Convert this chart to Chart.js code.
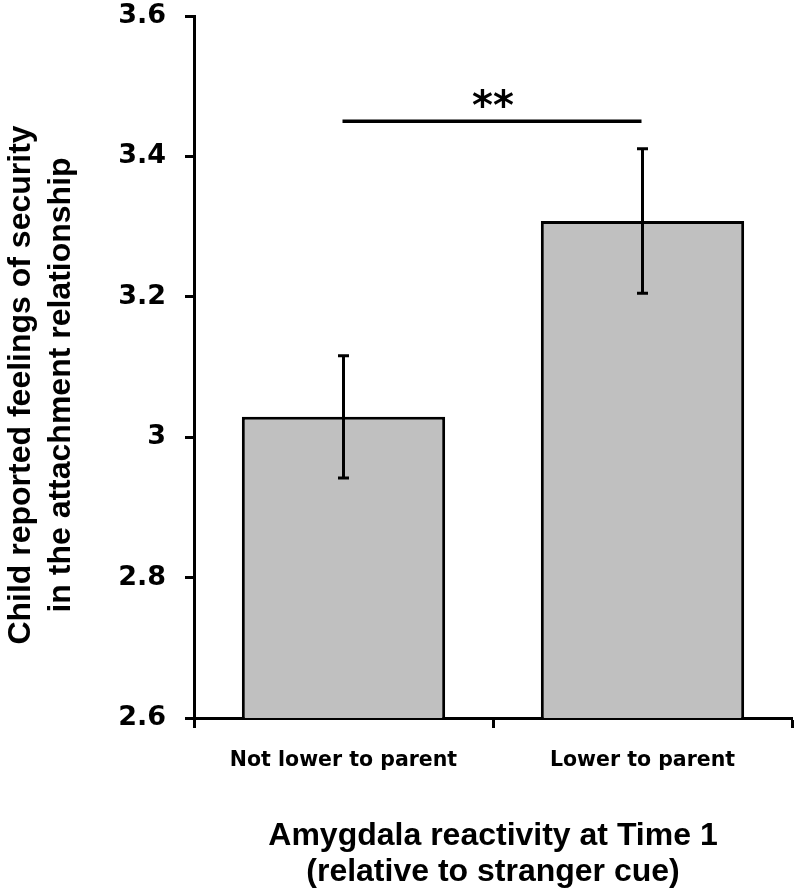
<!DOCTYPE html>
<html>
<head>
<meta charset="utf-8">
<style>
  html, body { margin: 0; padding: 0; background: #ffffff; }
  #wrap { width: 800px; height: 894px; position: relative; }
</style>
<script src="https://cdn.jsdelivr.net/npm/chart.js@4.4.1/dist/chart.umd.min.js"></script>
</head>
<body>
<div id="wrap"><canvas id="c"></canvas></div>
<script>
// ---- data ----
const categories = ["Not lower to parent", "Lower to parent"];
const means = [3.029, 3.308];
const errors = [0.087, 0.103];
const yMin = 2.6, yMax = 3.6, yStep = 0.2;
const sigFrom = 0, sigTo = 1, sigLevel = 3.45, sigLabel = "**";
const yTitle = ["Child reported feelings of security", "in the attachment relationship"];
const xTitle = ["Amygdala reactivity at Time 1", "(relative to stranger cue)"];

const errorBarPlugin = {
  id: 'errorBars',
  afterDatasetsDraw(chart) {
    const ctx = chart.ctx;
    const meta = chart.getDatasetMeta(0);
    const ys = chart.scales.y;
    ctx.save();
    ctx.strokeStyle = '#000';
    ctx.lineWidth = 3;
    ctx.lineCap = 'butt';
    meta.data.forEach((bar, i) => {
      const x = bar.x;
      const top = ys.getPixelForValue(means[i] + errors[i]);
      const bot = ys.getPixelForValue(means[i] - errors[i]);
      const cw = 5.5;
      ctx.beginPath();
      ctx.moveTo(x, top); ctx.lineTo(x, bot);
      ctx.moveTo(x - cw, top); ctx.lineTo(x + cw, top);
      ctx.moveTo(x - cw, bot); ctx.lineTo(x + cw, bot);
      ctx.stroke();
    });
    // significance bracket
    const x1 = meta.data[sigFrom].x, x2 = meta.data[sigTo].x;
    const yy = ys.getPixelForValue(sigLevel);
    ctx.lineWidth = 3.5;
    ctx.beginPath();
    ctx.moveTo(x1 - 1, yy); ctx.lineTo(x2 - 1, yy);
    ctx.stroke();
    ctx.fillStyle = '#000';
    ctx.font = 'bold 40px "DejaVu Sans"';
    ctx.textAlign = 'center';
    ctx.textBaseline = 'alphabetic';
    ctx.fillText(sigLabel, (x1 + x2) / 2, yy - 2);
    ctx.restore();
  }
};

// y-axis title (two lines, rotated), centred a little below the plot centre as in the original
const yTitlePlugin = {
  id: 'yTitle',
  afterDraw(chart) {
    const ctx = chart.ctx;
    const ca = chart.chartArea;
    const cy = (ca.top + ca.bottom) / 2 + 18;
    ctx.save();
    ctx.fillStyle = '#000';
    ctx.font = 'bold 32px "Liberation Sans"';
    ctx.textAlign = 'center';
    ctx.textBaseline = 'middle';
    yTitle.forEach((line, i) => {
      ctx.save();
      ctx.translate(21 + i * 40, cy);
      ctx.rotate(-Math.PI / 2);
      ctx.fillText(line, 0, 0);
      ctx.restore();
    });
    ctx.restore();
  }
};

new Chart(document.getElementById('c'), {
  type: 'bar',
  data: {
    labels: categories,
    datasets: [{
      data: means,
      backgroundColor: '#c0c0c0',
      borderColor: '#000000',
      borderWidth: 3,
      borderSkipped: 'start',
      barPercentage: 0.68,
      categoryPercentage: 1.0
    }]
  },
  options: {
    responsive: true,
    maintainAspectRatio: false,
    animation: false,
    layout: { padding: { top: 0, right: 8, bottom: 0, left: 0 } },
    plugins: { legend: { display: false }, tooltip: { enabled: false } },
    scales: {
      x: {
        offset: true,
        grid: { offset: true, drawOnChartArea: false, drawTicks: true, tickLength: 10, tickWidth: 3, tickColor: '#000' },
        border: { display: true, color: '#000', width: 3 },
        ticks: { color: '#000', padding: 20, font: { family: '"DejaVu Sans"', weight: 'bold', size: 20.5 } },
        title: {
          display: true, text: xTitle, color: '#000',
          font: { family: '"Liberation Sans"', weight: 'bold', size: 32, lineHeight: 1.125 },
          padding: { top: 0, bottom: 4 }
        },
        afterFit(s) { s.height = 176; }
      },
      y: {
        min: yMin, max: yMax,
        grid: { drawOnChartArea: false, drawTicks: true, tickLength: 9, tickWidth: 3, tickColor: '#000' },
        border: { display: true, color: '#000', width: 3 },
        ticks: {
          stepSize: yStep, color: '#000', padding: 19,
          font: { family: '"DejaVu Sans"', weight: 'bold', size: 27, lineHeight: 1.0 },
          callback: (v) => String(Math.round(v * 10) / 10)
        },
        title: { display: false },
        afterFit(s) { s.width = 194; s.paddingTop = 16; s.paddingBottom = 14; }
      }
    }
  },
  plugins: [errorBarPlugin, yTitlePlugin]
});
</script>
</body>
</html>
